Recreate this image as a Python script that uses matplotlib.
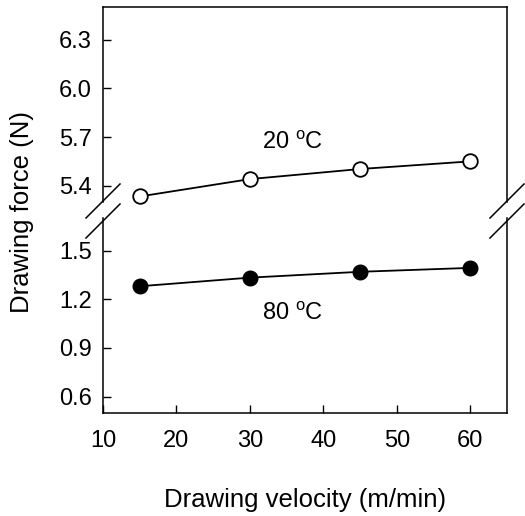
import matplotlib
matplotlib.use('Agg')
import matplotlib.pyplot as plt
from matplotlib.lines import Line2D

plt.rcParams['font.family'] = ['Liberation Sans', 'DejaVu Sans']
plt.rcParams['mathtext.fontset'] = 'custom'
plt.rcParams['mathtext.rm'] = 'Liberation Sans'

# --- Data ---
velocity = [15, 30, 45, 60]
force_20C = [5.334, 5.441, 5.503, 5.55]
force_80C = [1.28, 1.333, 1.369, 1.393]

x_ticks = [10, 20, 30, 40, 50, 60]
y_ticks_top = [5.4, 5.7, 6.0, 6.3]
y_ticks_bot = [0.6, 0.9, 1.2, 1.5]

W, H = 525, 516
fig = plt.figure(figsize=(W / 100, H / 100), dpi=100)

left, right = 103 / W, 507 / W
top_ax = fig.add_axes([left, 1 - 202 / H, right - left, 195 / H])
bot_ax = fig.add_axes([left, 1 - 413 / H, right - left, 195 / H])

fs = 17
for ax in (top_ax, bot_ax):
    ax.set_xlim(10, 65)
    ax.set_xticks(x_ticks)
    ax.tick_params(direction='in', length=6, width=1.0, labelsize=fs)
    ax.tick_params(axis='y', pad=8)
    for sp in ax.spines.values():
        sp.set_linewidth(1.1)

top_ax.plot(velocity, force_20C, '-o', color='black', lw=1.3,
            markersize=10.5, markerfacecolor='white', markeredgewidth=1.3,
            clip_on=False, zorder=3)
bot_ax.plot(velocity, force_80C, '-o', color='black', lw=1.3,
            markersize=10.5, markerfacecolor='black', clip_on=False, zorder=3)

top_ax.set_ylim(5.3, 6.5)
top_ax.set_yticks(y_ticks_top)
top_ax.set_yticklabels([f'{v:.1f}' for v in y_ticks_top])
top_ax.spines['bottom'].set_visible(False)
top_ax.tick_params(axis='x', bottom=False, labelbottom=False)

bot_ax.set_ylim(0.5, 1.7)
bot_ax.set_yticks(y_ticks_bot)
bot_ax.set_yticklabels([f'{v:.1f}' for v in y_ticks_bot])
bot_ax.spines['top'].set_visible(False)
bot_ax.tick_params(axis='x', pad=12)

top_ax.text(35.8, 5.665, r'20 $^\mathrm{o}$C', fontsize=fs, ha='center', va='center')
bot_ax.text(35.8, 1.11, r'80 $^\mathrm{o}$C', fontsize=fs, ha='center', va='center')

fig.text(305 / W, 1 - 500 / H, 'Drawing velocity (m/min)', fontsize=18.5,
         ha='center', va='center')
fig.text(22 / W, 1 - 212 / H, 'Drawing force (N)', fontsize=18.5,
         ha='center', va='center', rotation=90)

# break marks on both sides
for xc in (103, 507):
    for yc in (201, 221):
        x0, x1 = xc - 17, xc + 17
        y0, y1 = yc + 17, yc - 17
        fig.add_artist(Line2D([x0 / W, x1 / W], [1 - y0 / H, 1 - y1 / H],
                              color='black', lw=1.1, transform=fig.transFigure))

fig.savefig('out.png', dpi=100)
